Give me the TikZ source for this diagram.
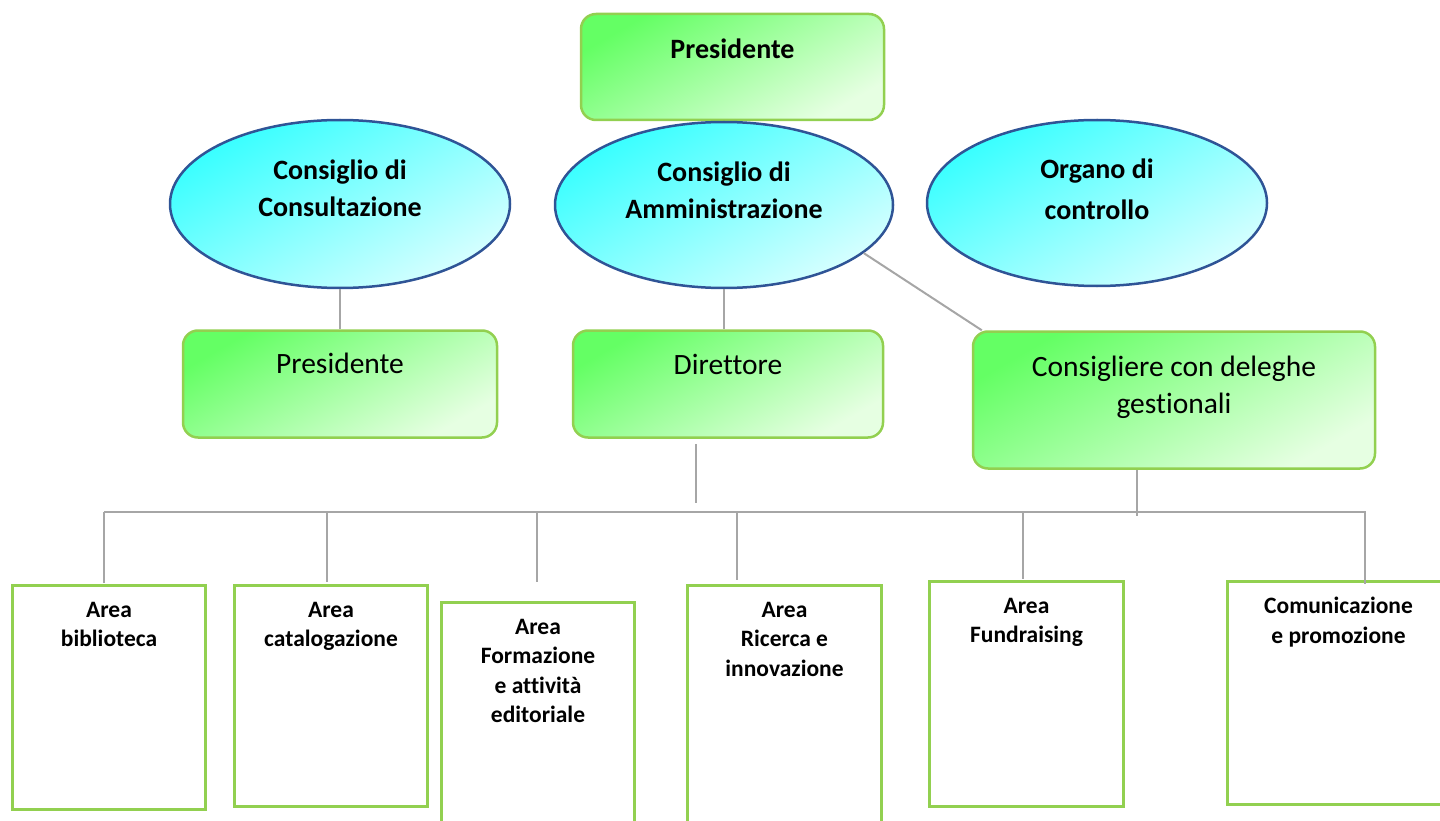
\documentclass[tikz,border=0pt]{standalone}
\usepackage{fontspec}
\setmainfont[Ligatures={NoCommon}]{Carlito}
\usetikzlibrary{positioning,calc,shapes.geometric}
\definecolor{boxgreen}{RGB}{146,208,80}
\definecolor{fillgreen}{RGB}{100,255,100}
\definecolor{palegreen}{RGB}{230,255,226}
\definecolor{fillcyan}{RGB}{55,255,255}
\definecolor{palecyan}{RGB}{215,255,255}
\definecolor{ringblue}{RGB}{47,84,150}
\definecolor{linkgray}{RGB}{166,166,166}

\begin{document}
\begin{tikzpicture}[x=1pt, y=-1pt,
	greenbox/.style = {shape=rectangle, rounded corners=15pt, draw=boxgreen, line width=2.5pt, top color=fillgreen, bottom color=palegreen, shading angle=30, inner sep=0pt},
	bubble/.style = {shape=ellipse, draw=ringblue, line width=2.5pt, top color=fillcyan, bottom color=palecyan, shading angle=30, inner sep=0pt},
	areabox/.style = {shape=rectangle, draw=boxgreen, line width=3pt, fill=white, minimum width=193pt, anchor=north west},
	bigtxt/.style = {align=center, inner sep=0pt, font=\fontsize{28}{37}\selectfont\bfseries},
	plaintxt/.style = {align=center, inner sep=0pt, font=\fontsize{29.5}{37}\selectfont},
	areatxt/.style = {align=center, inner sep=0pt, font=\fontsize{23.5}{29.5}\selectfont\bfseries},
	conn/.style = {draw=linkgray, line width=2pt}]
		\useasboundingbox (0,0) rectangle (1440,821);
		% top
		\node[greenbox, minimum width=303pt, minimum height=106pt] (pres) at (732.5,67) {};
		\node[bigtxt, below=26pt of pres.north] (presT) {Presidente};
		% councils
		\node[bubble, minimum width=340pt, minimum height=168pt] (cons) at (340,204) {};
		\node[bigtxt, below=41pt of cons.north] (consT) {Consiglio di\\Consultazione};
		\node[bubble, minimum width=338pt, minimum height=166pt] (amm) at (724,205) {};
		\node[bigtxt, below=41pt of amm.north] (ammT) {Consiglio di\\Amministrazione};
		\node[bubble, minimum width=340pt, minimum height=166pt] (org) at (1097,203) {};
		\node[bigtxt, font=\fontsize{28}{41}\selectfont\bfseries, below=40pt of org.north] (orgT) {Organo di\\controllo};
		% second row
		\node[greenbox, minimum width=314pt, minimum height=107pt] (presB) at (340,384) {};
		\node[plaintxt, below=24pt of presB.north] (presBT) {Presidente};
		\node[greenbox, minimum width=310pt, minimum height=107pt] (dir) at (728,384) {};
		\node[plaintxt, below=25pt of dir.north] (dirT) {Direttore};
		\node[greenbox, minimum width=402pt, minimum height=137pt] (cgl) at (1174,400) {};
		\node[plaintxt, below=26pt of cgl.north] (cglT) {Consigliere con deleghe\\gestionali};
		% areas
		\node[areabox, minimum height=224pt] (bib) at (11,584) {};
		\node[areatxt, below=18pt of bib.north] (bibT) {Area\\biblioteca};
		\node[areabox, minimum height=221pt] (cat) at (233,584) {};
		\node[areatxt, below=18pt of cat.north] (catT) {Area\\catalogazione};
		\node[areabox, minimum height=224pt] (form) at (440,601) {};
		\node[areatxt, below=18pt of form.north] (formT) {Area\\Formazione\\e attività\\editoriale};
		\node[areabox, minimum width=194pt, minimum height=241pt] (ric) at (686,584) {};
		\node[areatxt, below=18pt of ric.north] (ricT) {Area\\Ricerca e\\innovazione};
		\node[areabox, minimum width=194pt, minimum height=225pt] (fund) at (928,580) {};
		\node[areatxt, below=18pt of fund.north] (fundT) {Area\\Fundraising};
		\node[areabox, minimum width=222pt, minimum height=223pt] (com) at (1226,580) {};
		\node[areatxt, below=17pt of com.north] (comT) {Comunicazione\\e promozione};
		% links
		\draw[conn] (cons.south) -- (presB.north);
		\draw[conn] (amm.south) -- (amm.south |- dir.north);
		\draw[conn] (amm.-19) -- ([xshift=10pt]cgl.north west);
		\coordinate (busL) at (104,512);
		\coordinate (busR) at (1366,512);
		\coordinate (dirfoot) at (696,503);
		\coordinate (cglfoot) at (1137,516);
		\draw[conn] ($(dir.south -| dirfoot)+(0,5)$) -- (dirfoot);
		\draw[conn] (cgl.south -| cglfoot) -- (cglfoot);
		\draw[conn] (busL) -- (busR);
		\foreach \x/\b/\g in {104/bib/1, 327/cat/2, 537/form/19, 737/ric/4, 1023/fund/1, 1365/com/-4}
			\draw[conn] (\x,0 |- busL) -- ($(\b.north -| \x,0)+(0,-\g)$);
\end{tikzpicture}
\end{document}
